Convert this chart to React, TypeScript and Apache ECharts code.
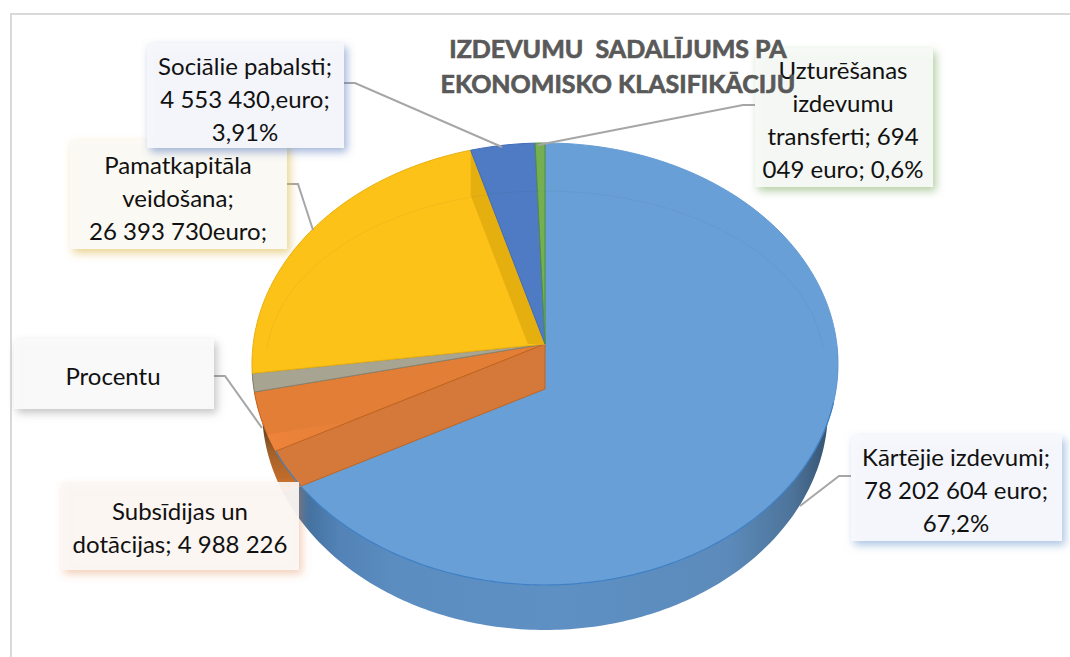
import React, { useEffect, useRef } from "react";
import * as echarts from "echarts";

// ---- data ----
const categories = ["Kārtējie izdevumi", "Subsīdijas un dotācijas", "Procentu", "Pamatkapitāla veidošana", "Sociālie pabalsti", "Uzturēšanas izdevumu transferti"];
const values = [78202604, 4988226, 1540884, 26393730, 4553430, 694049];
const titleText = "IZDEVUMU  SADALĪJUMS PA\nEKONOMISKO KLASIFIKĀCIJU";
const labelTexts = [
  "Kārtējie izdevumi;\n78 202 604 euro;\n67,2%",
  "Subsīdijas un\ndotācijas; 4 988 226",
  "Procentu",
  "Pamatkapitāla\nveidošana;\n26 393 730euro;",
  "Sociālie pabalsti;\n4 553 430,euro;\n3,91%",
  "Uzturēšanas\nizdevumu\ntransferti; 694\n049 euro; 0,6%",
];

// ---- layout and styles ----
const CX = 545, APEX_Y = 344, DEPTH = 45;
const RIM = { cy: 364, rx: 293, ry: 221 };
const BASE = { cy: 409, rx: 283, ry: 221 };
const INNER = { cy: 364, rx: 279, ry: 173 };
const FONT = "Lato, 'Open Sans', sans-serif";
const LABEL_FONT_SIZE = 24;
const BLUE_BAND_BASE_END = 248;

const boxes = [
  { x: 851, y: 435, w: 211, h: 106, tx: 956, ty: 489, fill: "rgba(247,249,253,0.94)", shadow: "rgba(91,140,200,0.55)" },
  { x: 61, y: 482, w: 238, h: 88, tx: 180, ty: 527, fill: "rgba(252,247,244,0.92)", shadow: "rgba(225,140,90,0.45)" },
  { x: 14, y: 339, w: 200, h: 70, tx: 113, ty: 375, fill: "rgba(250,250,250,0.96)", shadow: "rgba(120,120,120,0.45)" },
  { x: 70, y: 140, w: 217, h: 109, tx: 178, ty: 197, fill: "rgba(251,250,245,0.96)", shadow: "rgba(215,170,50,0.55)" },
  { x: 147, y: 43, w: 197, h: 105, tx: 245, ty: 98, fill: "rgba(246,247,251,0.96)", shadow: "rgba(80,115,185,0.55)" },
  { x: 755, y: 48, w: 178, h: 139, tx: 843, ty: 119, fill: "rgba(247,250,245,0.94)", shadow: "rgba(110,160,80,0.55)" },
];
const leaders = [
  [[851, 476], [839, 476], [800, 506]],
  null,
  [[213, 376], [225, 376], [262, 428]],
  [[287, 184], [298, 184], [313, 230]],
  [[344, 83], [355, 83], [502, 147]],
  [[755, 105], [743, 105], [538, 145]],
];
const faceFills = ["#679FD6", "#E37E36", "#A8A492", "#FCC217", "#4E7BC3", "#76AF52"];
const faceStrokes = ["#659DD4", "#C4661F", "#85826F", "#E8B010", "#3F6CB8", "#4F8F3F"];

// ---- geometry ----
const rad = (d: number) => (d * Math.PI) / 180;
const total = values.reduce((a, b) => a + b, 0);
const cumulative = values.reduce<number[]>((acc, v) => [...acc, acc[acc.length - 1] + (v / total) * 360], [0]);
// the 3D view foreshortens the true angle of a slice on the rim
const warp = (theta: number) => theta - 5.5 * Math.sin(rad(theta));
const on = (e: { cy: number; rx: number; ry: number }, phi: number): number[] => [
  CX + e.rx * Math.sin(rad(phi)),
  e.cy - e.ry * Math.cos(rad(phi)),
];
const arc = (e: typeof RIM, a: number, b: number): number[][] => {
  const n = Math.max(2, Math.ceil(Math.abs(b - a)));
  return Array.from({ length: n + 1 }, (_, i) => on(e, a + ((b - a) * i) / n));
};
const apex = [CX, APEX_Y];
const apexLow = [CX, APEX_Y + DEPTH];
// where the extruded lower edge of a slice boundary enters the top face
const cutPhi = (phi: number) => {
  const r = on(RIM, phi);
  const b = [r[0], r[1] + DEPTH];
  for (let t = 0; t <= 1; t += 0.002) {
    const x = b[0] + (apexLow[0] - b[0]) * t;
    const y = b[1] + (apexLow[1] - b[1]) * t;
    const sx = (x - CX) / RIM.rx;
    const sy = (y - RIM.cy) / RIM.ry;
    if (sx * sx + sy * sy <= 1) {
      const deg = (Math.atan2(sx, -sy) * 180) / Math.PI;
      return deg < 0 ? deg + 360 : deg;
    }
  }
  return phi;
};
const grad = (x2: number, y2: number, stops: [number, string][]) =>
  new echarts.graphic.LinearGradient(0, 0, x2, y2, stops.map(([offset, color]) => ({ offset, color })));

const renderSide = (params: any) => {
  const i = params.dataIndex;
  const cut = cutPhi(warp(cumulative[1]));
  if (i === 0) {
    return {
      type: "polygon",
      shape: { points: [...arc(RIM, 85, cut), ...arc(BASE, BLUE_BAND_BASE_END, 85)] },
      style: {
        fill: grad(1, 0, [
          [0, "#35587C"], [0.04, "#42709E"], [0.1, "#5282B6"], [0.2, "#5B8DC1"], [0.5, "#5E90C4"],
          [0.8, "#5C8BBB"], [0.92, "#4D7399"], [1, "#2F4A66"],
        ]),
      },
    };
  }
  if (i === 1) {
    return {
      type: "polygon",
      shape: { points: [...arc(RIM, cut, 272), ...arc(BASE, 272, BLUE_BAND_BASE_END)] },
      style: { fill: grad(0, 1, [[0, "#2E2217"], [0.45, "#4A3320"], [0.7, "#A2602A"], [1, "#D0722A"]]) },
    };
  }
  return { type: "group", children: [] };
};

const renderFace = (params: any) => {
  const i = params.dataIndex;
  const a = warp(cumulative[i]);
  const b = warp(cumulative[i + 1]);
  const children: any[] = [
    {
      type: "polygon",
      shape: { points: [apex, ...arc(RIM, a, b)] },
      style: { fill: faceFills[i], stroke: faceStrokes[i], lineWidth: 1 },
    },
  ];
  if (i === 1) {
    // the two exposed inner walls of the orange slice
    const cutB = cutPhi(b);
    children.push({
      type: "polygon",
      shape: { points: [apexLow, ...arc(RIM, cutB, a), apex] },
      style: { fill: grad(1, 0, [[0, "#EE843C"], [0.25, "#E67F37"], [1, "#DF7B34"]]) },
    });
    const cutA = cutPhi(a);
    const wall = [apex, ...arc(RIM, a, cutA), apexLow];
    children.push({
      type: "polygon",
      shape: { points: wall },
      style: { fill: "#D5793B", stroke: "#C0641F", lineWidth: 1 },
    });
    children.push({
      type: "polyline",
      shape: { points: arc(RIM, a, cutA) },
      style: { fill: "none", stroke: "#4A80BA", lineWidth: 1.2 },
    });
  }
  if (i === 3) {
    // dark inner wall seen along the yellow slice's right edge
    const r = on(RIM, b);
    const low = [r[0], r[1] + DEPTH];
    const t = (APEX_Y - low[1]) / (apexLow[1] - low[1]);
    children.push({
      type: "polygon",
      shape: { points: [r, low, [low[0] + (apexLow[0] - low[0]) * t, APEX_Y], apex] },
      style: { fill: "#E5AF10" },
    });
  }
  if (i === 0) {
    children.push({
      type: "polyline",
      shape: { points: arc(RIM, 100, cutPhi(b)) },
      style: { fill: "none", stroke: "#3F7FC3", lineWidth: 1.2 },
    });
  }
  return { type: "group", children };
};

export default function App() {
  const ref = useRef<HTMLDivElement>(null);
  useEffect(() => {
    document.body.style.margin = "0";
    const chart = echarts.init(ref.current!, null, { renderer: "svg" });
    const data = categories.map((name, i) => ({ name, value: values[i] }));
    const graphic: any[] = [
      {
        type: "rect", z: 1, silent: true,
        shape: { x: 11, y: 14, width: 1200, height: 800 },
        style: { fill: "#FFFFFF", stroke: "#D9D9D9", lineWidth: 2 },
      },
      {
        type: "polyline", z: 50, silent: true,
        shape: { points: arc(INNER, -85, 85) },
        style: { fill: "none", stroke: "rgba(60,70,90,0.06)", lineWidth: 1 },
      },
    ];
    boxes.forEach((b, i) => {
      const z = 100 + [3, 2, 1, 4, 6, 5][i] * 2;
      const line = leaders[i];
      if (line) {
        graphic.push({
          type: "polyline", z: 90, silent: true,
          shape: { points: line },
          style: { fill: "none", stroke: "#A6A6A6", lineWidth: 2 },
        });
      }
      graphic.push({
        type: "rect", z, silent: true,
        shape: { x: b.x, y: b.y, width: b.w, height: b.h },
        style: { fill: b.fill, shadowBlur: 9, shadowOffsetX: 3, shadowOffsetY: 4, shadowColor: b.shadow },
      });
      graphic.push({
        type: "text", z: z + 1, silent: true,
        style: {
          text: labelTexts[i], x: b.tx, y: b.ty, align: "center", verticalAlign: "middle",
          fontFamily: FONT, fontSize: LABEL_FONT_SIZE, lineHeight: 33, fill: "#111111",
        },
      });
    });
    graphic.push({
      type: "text", z: 130, silent: true,
      style: {
        text: titleText, x: 618, y: 65, align: "center", verticalAlign: "middle",
        fontFamily: FONT, fontSize: 25, fontWeight: "bold", lineHeight: 35, fill: "#595959",
        stroke: "#595959", lineWidth: 0.7,
      },
    });
    chart.setOption({
      animation: false,
      backgroundColor: "#FFFFFF",
      graphic,
      series: [
        { type: "custom", name: "side", coordinateSystem: "none", silent: true, z: 5, renderItem: renderSide, data },
        { type: "custom", name: "top", coordinateSystem: "none", silent: true, z: 6, renderItem: renderFace, data },
      ],
    });
    return () => chart.dispose();
  }, []);
  return <div ref={ref} style={{ position: "absolute", left: 0, top: 0, width: 1070, height: 657 }} />;
}
